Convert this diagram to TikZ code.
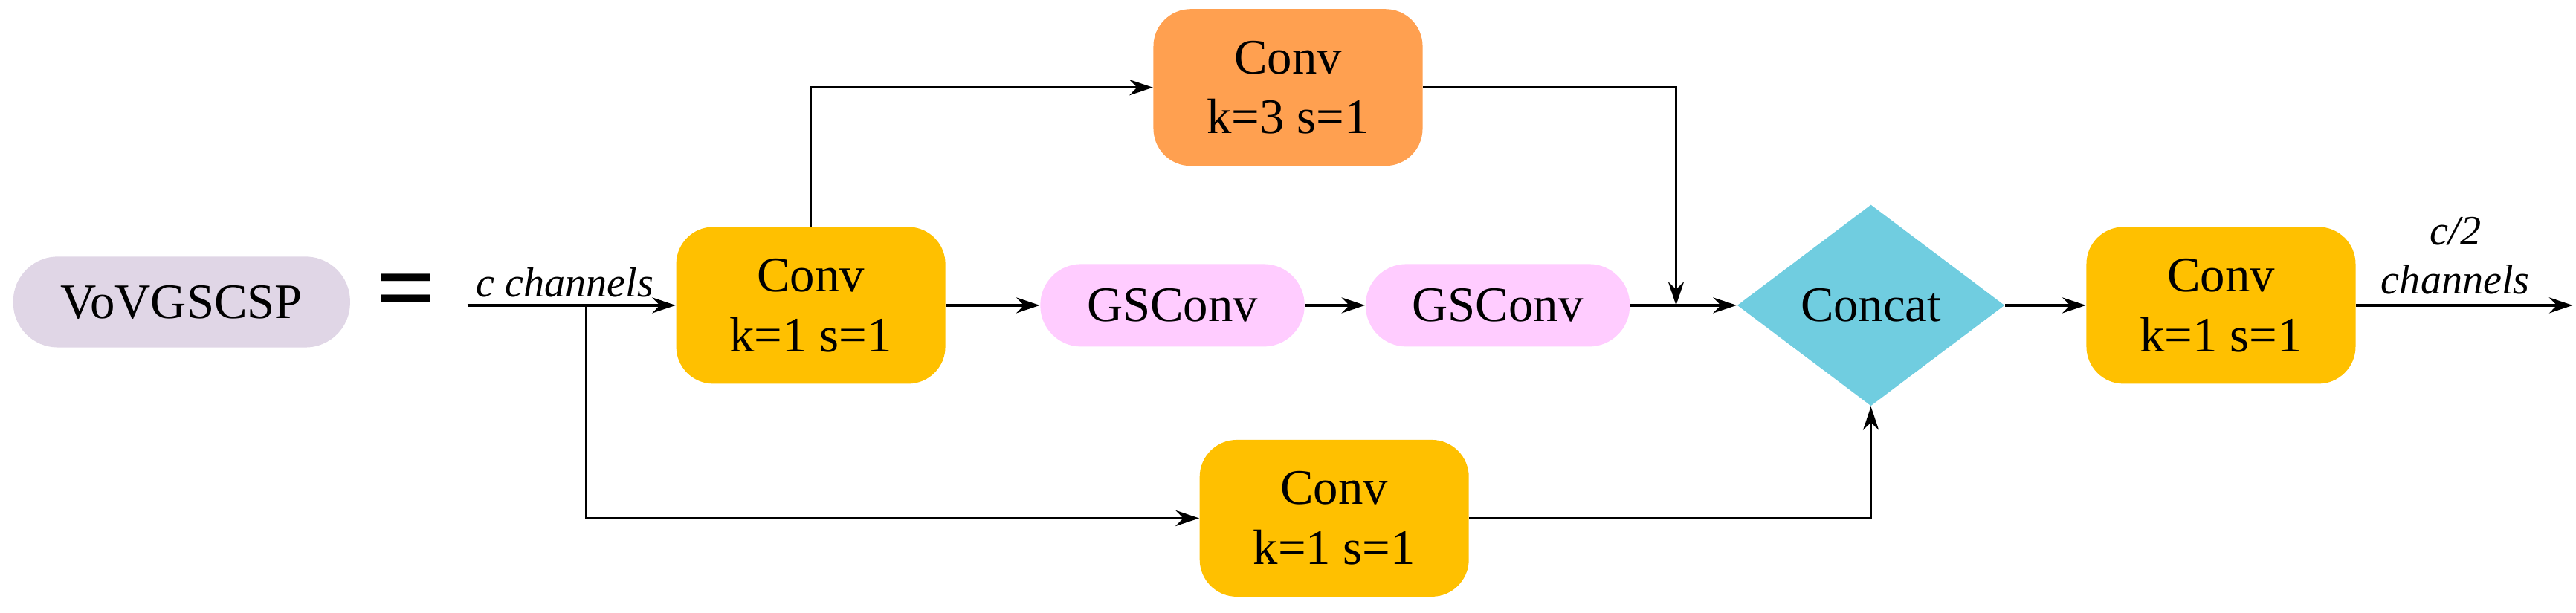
\documentclass[tikz,border=0pt]{standalone}
\usepackage{fontspec}
\setmainfont{Liberation Serif}
\usetikzlibrary{shapes.geometric,arrows.meta}
\definecolor{cgold}{HTML}{FFC000}
\definecolor{corange}{HTML}{FFA050}
\definecolor{cpink}{HTML}{FFCCFF}
\definecolor{ccyan}{HTML}{70CDE0}
\definecolor{cgray}{HTML}{E0D6E6}
\begin{document}
\begin{tikzpicture}[x=0.02221cm,y=-0.02221cm,
  txt/.style={font=\fontsize{19}{23}\selectfont,align=center},
  conv/.style={txt,draw=none,fill=cgold,rounded corners=0.5cm,minimum width=163*0.02221cm,minimum height=95*0.02221cm,inner sep=0pt},
  gs/.style={txt,fill=cpink,rounded corners=0.55cm,minimum width=160*0.02221cm,minimum height=50*0.02221cm,inner sep=0pt},
  arr/.style={-{Stealth[length=9pt,width=6pt]},line width=1pt},
  ln/.style={line width=1pt}]
\useasboundingbox (0,0) rectangle (1560,371);
\node[txt,fill=cgray,rounded corners=0.6cm,minimum width=204*0.02221cm,minimum height=55*0.02221cm,inner sep=0pt] (vov) at (110,183) {VoVGSCSP};
\node[font=\fontsize{40}{40}\selectfont\bfseries] (eq) at (246,181) {=};
\node[conv] (c1) at (491,185) {Conv\\k=1 s=1};
\node[conv,fill=corange] (ct) at (780,53) {Conv\\k=3 s=1};
\node[conv] (cb) at (808,314) {Conv\\k=1 s=1};
\node[gs] (g1) at (710,185) {GSConv};
\node[gs] (g2) at (907,185) {GSConv};
\node[txt,diamond,fill=ccyan,minimum width=162*0.02221cm,minimum height=122*0.02221cm,inner sep=0pt,aspect=1.33] (cat) at (1133,185) {Concat};
\node[conv] (cf) at (1345,185) {Conv\\k=1 s=1};
\coordinate (in) at (283,185);
\coordinate (br) at (355,185);
\coordinate (out) at (1558,185);
\node[txt,font=\fontsize{16}{19}\selectfont\itshape] (lc) at (342,171) {c channels};
\node[txt,font=\fontsize{16}{19}\selectfont\itshape,align=center] (lc2) at (1487,155) {c/2\\channels};
\draw[arr] (in) -- (c1.west);
\draw[arr] (c1.north) |- (ct.west);
\draw[arr] (ct.east) -| (1015,185);
\draw[arr] (c1) -- (g1);
\draw[arr] (g1) -- (g2);
\draw[arr] (g2) -- (cat.west);
\draw[arr] (br) |- (cb.west);
\draw[arr] (cb.east) -| (cat.south);
\draw[arr] (cat.east) -- (cf.west);
\draw[arr] (cf.east) -- (out);
\end{tikzpicture}
\end{document}
